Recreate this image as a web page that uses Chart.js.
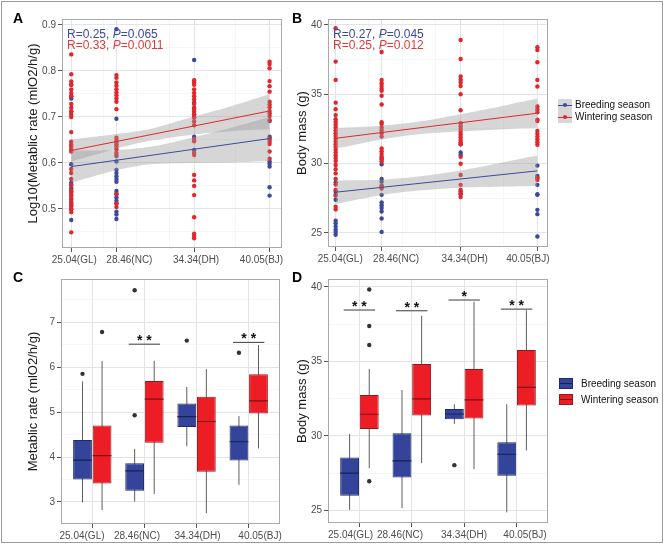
<!DOCTYPE html>
<html>
<head>
<meta charset="utf-8">
<script src="https://cdn.jsdelivr.net/npm/chart.js@4.4.1/dist/chart.umd.min.js"></script>
<style>
  body { margin: 0; background: #fff; }
  #fig { position: relative; width: 666px; height: 545px; overflow: hidden; font-family: "Liberation Sans", Arial, sans-serif; background: #fff; }
  #fig canvas { position: absolute; }
  .frame { position: absolute; left: 1px; top: 1px; width: 660px; height: 540px; border: 1.5px solid #9c9c9c; }
  .lbl { position: absolute; font-weight: bold; font-size: 14px; line-height: 14px; color: #000; }
  .legtxt { position: absolute; font-size: 10px; line-height: 12px; color: #111; white-space: nowrap; }
  .abs { position: absolute; }
</style>
</head>
<body>
<div id="fig">
  <div class="frame"></div>
  <canvas id="cA" width="330" height="268" style="left:0;top:0;width:330px;height:268px"></canvas>
  <canvas id="cB" width="370" height="268" style="left:290px;top:0;width:370px;height:268px"></canvas>
  <canvas id="cC" width="330" height="272" style="left:0;top:270px;width:330px;height:272px"></canvas>
  <canvas id="cD" width="370" height="272" style="left:290px;top:270px;width:370px;height:272px"></canvas>
  <div class="lbl" style="left:13px;top:11px">A</div>
  <div class="lbl" style="left:292px;top:11px">B</div>
  <div class="lbl" style="left:13px;top:270px">C</div>
  <div class="lbl" style="left:292px;top:270px">D</div>
  <div id="legAB"></div>
  <div id="legCD"></div>
</div>
<script>
// ---------------- data ----------------
const siteLabels = ['25.04(GL)', '28.46(NC)', '34.34(DH)', '40.05(BJ)'];
const siteLat = [25.04, 28.46, 34.34, 40.05];
const seasons = ['Breeding season', 'Wintering season'];

// Panel A: Log10 metabolic rate, one list per site (GL, NC, DH, BJ)
const logMRBreeding = [
  [0.770, 0.745, 0.740, 0.712, 0.597, 0.557, 0.552, 0.545, 0.538, 0.530, 0.522, 0.515, 0.508, 0.500, 0.476],
  [0.891, 0.696, 0.615, 0.603, 0.585, 0.578, 0.571, 0.565, 0.559, 0.539, 0.533, 0.525, 0.518, 0.512, 0.494, 0.488, 0.478],
  [0.824, 0.731, 0.718, 0.706, 0.700, 0.657, 0.628],
  [0.691, 0.657, 0.652, 0.603, 0.598, 0.592, 0.547, 0.529]
];
const logMRWintering = [
  [0.836, 0.793, 0.777, 0.770, 0.760, 0.752, 0.745, 0.728, 0.720, 0.712, 0.705, 0.700, 0.667, 0.646, 0.640, 0.636, 0.630, 0.625, 0.587, 0.578, 0.565, 0.552, 0.541, 0.535, 0.528, 0.520, 0.512, 0.505, 0.499, 0.493, 0.449],
  [0.791, 0.785, 0.775, 0.768, 0.760, 0.753, 0.747, 0.740, 0.733, 0.717, 0.655, 0.650, 0.645, 0.640, 0.636, 0.630, 0.622, 0.617, 0.532, 0.512, 0.504],
  [0.780, 0.775, 0.770, 0.760, 0.752, 0.745, 0.738, 0.728, 0.720, 0.712, 0.705, 0.698, 0.690, 0.682, 0.652, 0.647, 0.622, 0.617, 0.574, 0.562, 0.550, 0.530, 0.482, 0.446, 0.441, 0.436],
  [0.820, 0.815, 0.806, 0.778, 0.767, 0.755, 0.733, 0.727, 0.721, 0.713, 0.708, 0.702, 0.693, 0.652, 0.646, 0.641, 0.625, 0.609]
];
// Panel B: body mass (g), one list per site
const massBreeding = [
  [28.64, 28.0, 27.75, 27.4, 25.88, 25.7, 25.47, 25.23, 25.07, 24.87],
  [30.4, 29.96, 28.9, 28.7, 28.4, 27.75, 27.2, 27.0, 26.8, 26.55, 26.05, 25.08],
  [31.4, 30.8, 30.65, 27.99, 27.8],
  [29.86, 29.12, 28.97, 28.47, 27.8, 27.75, 26.67, 26.36, 24.75]
];
const massWintering = [
  [39.76, 37.36, 36.04, 34.40, 33.92, 33.5, 33.2, 33.0, 32.8, 32.6, 32.4, 32.2, 32.0, 31.8, 31.6, 31.4, 31.2, 31.0, 30.8, 30.6, 30.4, 30.2, 29.9, 29.6, 29.3, 28.9, 28.5, 28.1, 27.7, 26.9, 26.7],
  [38.05, 36.04, 35.8, 35.6, 35.4, 35.25, 34.9, 34.26, 32.98, 32.85, 32.6, 32.4, 32.2, 31.95, 31.1, 30.9, 30.7, 30.5, 30.3, 30.15, 28.4, 28.2],
  [38.92, 37.55, 36.28, 36.05, 35.85, 35.6, 35.0, 33.85, 32.92, 32.7, 32.5, 32.3, 32.1, 31.9, 31.7, 31.55, 31.4, 30.5, 29.99, 29.19, 28.47, 28.1, 27.85, 27.6],
  [38.39, 38.2, 37.31, 36.04, 35.56, 34.12, 33.9, 33.71, 33.16, 33.08, 32.36, 32.15, 31.95, 31.75, 31.55, 31.36, 28.96, 28.83]
];

// Linear fits (values at the two ends) and confidence bands
const fitX = [25.04, 40.05];
const fitA_breeding = [0.592, 0.653];
const fitA_wintering = [0.627, 0.713];
const fitB_breeding = [27.94, 29.48];
const fitB_wintering = [31.83, 33.64];
const bandX = [25.04, 28.46, 31.0, 34.34, 37.2, 40.05];
const bandA_breeding_lo = [0.557, 0.584, 0.597, 0.600, 0.601, 0.604];
const bandA_breeding_hi = [0.627, 0.628, 0.635, 0.656, 0.677, 0.700];
const bandA_wintering_lo = [0.603, 0.631, 0.648, 0.662, 0.669, 0.673];
const bandA_wintering_hi = [0.651, 0.663, 0.674, 0.701, 0.724, 0.750];
const bandB_breeding_lo = [27.09, 27.74, 28.05, 28.27, 28.33, 28.38];
const bandB_breeding_hi = [28.79, 28.84, 29.05, 29.51, 30.03, 30.58];
const bandB_wintering_lo = [31.08, 31.74, 32.10, 32.33, 32.47, 32.59];
const bandB_wintering_hi = [32.58, 32.74, 33.00, 33.57, 34.11, 34.69];
const statsA = [{ r: '0.25', p: '0.065' }, { r: '0.33', p: '0.0011' }];
const statsB = [{ r: '0.27', p: '0.045' }, { r: '0.25', p: '0.012' }];

// Panel C: metabolic rate box stats per site [min, q1, median, q3, max]
const mrBoxBreeding = [[2.99, 3.50, 3.93, 4.38, 5.68], [3.01, 3.25, 3.69, 3.86, 4.18], [4.24, 4.67, 4.90, 5.19, 5.56], [3.38, 3.92, 4.34, 4.70, 4.91]];
const mrBoxWintering = [[2.82, 3.41, 4.03, 4.70, 6.14], [3.18, 4.32, 5.29, 5.69, 6.14], [2.75, 3.67, 4.79, 5.34, 5.96], [4.19, 4.97, 5.25, 5.84, 6.49]];
const mrOutBreeding = [[5.85], [4.93, 7.71], [6.59], [6.32]];
const mrOutWintering = [[6.78], [], [], []];
const mrSigText = ['', '**', '', '**'];
const mrSigLevel = [null, 6.51, null, 6.55];

// Panel D: body mass box stats per site [min, q1, median, q3, max]
const bmBoxBreeding = [[25.04, 25.98, 27.5, 28.55, 30.13], [25.16, 27.21, 28.33, 30.18, 33.08], [30.8, 31.12, 31.47, 31.81, 32.12], [24.87, 27.32, 28.77, 29.58, 32.12]];
const bmBoxWintering = [[27.83, 30.47, 31.45, 32.75, 34.49], [28.17, 31.36, 32.48, 34.82, 38.06], [27.77, 31.16, 32.41, 34.49, 39.0], [29.02, 32.03, 33.26, 35.76, 38.44]];
const bmOutBreeding = [[], [], [28.04], []];
const bmOutWintering = [[39.82, 37.37, 36.09, 26.96], [], [], []];
const bmSigText = ['**', '**', '*', '**'];
const bmSigLevel = [38.44, 38.39, 39.11, 38.5];

// Tick values
const yTicksA = [0.5, 0.6, 0.7, 0.8, 0.9], yMinorA = [0.45, 0.55, 0.65, 0.75, 0.85];
const yTicksMass = [25, 30, 35, 40], yMinorMass = [27.5, 32.5, 37.5];
const yTicksMR = [3, 4, 5, 6, 7], yMinorMR = [3.5, 4.5, 5.5, 6.5, 7.5];
const xMinorLat = [27.5, 30, 32.5, 37.5];

// ---------------- layout (x-label anchor positions as drawn in the figure) ----------------
const labelPosA = [25.27, 29.44, 34.49, 39.44];
const labelPosB = [25.38, 29.54, 34.64, 39.34];
const labelPosC = [0.803, 1.858, 3.018, 4.217];
const labelPosD = [0.83, 1.775, 2.996, 4.161];

// ---------------- style ----------------
const FONT = '"Liberation Sans", Arial, sans-serif';
Chart.defaults.font.family = FONT;
Chart.defaults.animation = false;
Chart.defaults.events = [];
Chart.defaults.plugins.legend.display = false;
Chart.defaults.plugins.tooltip.enabled = false;

const BLUE = '#3B4A9B', RED = '#E2262B';
const BOX_BLUE = '#33449A', BOX_RED = '#EC1D25';
const EDGE_BLUE = '#1F2B66', EDGE_RED = '#9A161B';
const GRID_MAJOR = '#E4E4E4', GRID_MINOR = '#F0F0F0';
const BAND = 'rgba(153,153,153,0.4)';
const CAT_PCT = 0.75, BAR_PCT = 0.96;

function gridOpts(isMajor) {
  return {
    color: c => (c.tick && isMajor(c.tick.value)) ? GRID_MAJOR : GRID_MINOR,
    lineWidth: c => (c.tick && isMajor(c.tick.value)) ? 1 : 0.6,
    tickLength: 4,
    tickWidth: 1,
    tickColor: c => (c.tick && isMajor(c.tick.value)) ? '#555' : 'rgba(0,0,0,0)',
    offset: false
  };
}
function yAxis(min, max, majors, minors, fmt, width, title, titlePad) {
  const isMajor = v => majors.includes(v);
  return {
    type: 'linear', position: 'left', min, max,
    afterBuildTicks: s => { s.ticks = majors.concat(minors).filter(v => v >= min && v <= max).sort((a, b) => a - b).map(v => ({ value: v })); },
    afterFit: s => { s.width = width; },
    ticks: { autoSkip: false, padding: 2, color: '#4D4D4D', font: { size: 10 }, callback: v => isMajor(v) ? fmt(v) : '' },
    grid: gridOpts(isMajor),
    border: { display: false },
    title: { display: true, text: title, color: '#1A1A1A', font: { size: 13 }, padding: { top: titlePad, bottom: 0 } }
  };
}
// main x axis: grid lines + tick marks only
function xGridAxis(min, max, majors, minors) {
  const isMajor = v => majors.includes(v);
  return {
    type: 'linear', position: 'bottom', weight: 0, min, max, offset: false,
    afterBuildTicks: s => { s.ticks = majors.concat(minors).sort((a, b) => a - b).map(v => ({ value: v })); },
    afterFit: s => { s.height = 4; },
    ticks: { autoSkip: false, maxRotation: 0, padding: 0, font: { size: 10 }, callback: () => '' },
    grid: gridOpts(isMajor),
    border: { display: false }
  };
}
// second x axis carrying only the category text labels
function xLabelAxis(min, max, pos, height) {
  return {
    type: 'linear', position: 'bottom', weight: 1, min, max, offset: false,
    afterBuildTicks: s => { s.ticks = pos.map(v => ({ value: v })); },
    afterFit: s => { s.height = height; },
    ticks: { autoSkip: false, maxRotation: 0, padding: 2, color: '#4D4D4D', font: { size: 10 }, callback: (v, i) => siteLabels[i] },
    grid: { display: false, drawTicks: false },
    border: { display: false }
  };
}

const panelFrame = {
  id: 'panelFrame',
  afterDraw(chart) {
    const { ctx, chartArea: a } = chart;
    ctx.save();
    ctx.strokeStyle = '#A9A9A9';
    ctx.lineWidth = 1;
    ctx.strokeRect(a.left + 0.5, a.top + 0.5, a.right - a.left - 1, a.bottom - a.top - 1);
    ctx.restore();
  }
};
function statsPlugin(stats) {
  const cols = [BLUE, '#E0393E'];
  return {
    id: 'stats',
    afterDatasetsDraw(chart) {
      const { ctx, chartArea: a } = chart;
      ctx.save();
      ctx.textBaseline = 'middle';
      stats.forEach((s, i) => {
        let x = a.left + 5;
        const y = a.top + 15.5 + i * 11.5;
        ctx.fillStyle = cols[i];
        ctx.font = '12px ' + FONT;
        const t1 = 'R=' + s.r + ', ';
        ctx.fillText(t1, x, y); x += ctx.measureText(t1).width;
        ctx.font = 'italic 12px ' + FONT;
        ctx.fillText('P', x, y); x += ctx.measureText('P').width;
        ctx.font = '12px ' + FONT;
        ctx.fillText('=' + s.p, x, y);
      });
      ctx.restore();
    }
  };
}
function sigPlugin(texts, levels) {
  return {
    id: 'sig',
    afterDatasetsDraw(chart) {
      const { ctx, scales: { x, y } } = chart;
      ctx.save();
      ctx.fillStyle = '#111';
      ctx.font = 'bold 14px ' + FONT;
      ctx.textAlign = 'center';
      ctx.textBaseline = 'alphabetic';
      texts.forEach((t, i) => {
        if (!t) return;
        ctx.fillText(t.split('').join(' '), x.getPixelForValue(i + 1), y.getPixelForValue(levels[i]) + 1);
      });
      ctx.restore();
    }
  };
}
function bindAxes(datasets) { datasets.forEach(d => { d.xAxisID = 'x'; d.yAxisID = 'y'; }); return datasets; }

// ---------------- scatter panels ----------------
function pts(lists) {
  const out = [];
  lists.forEach((vals, i) => vals.forEach(v => out.push({ x: siteLat[i], y: v })));
  return out;
}
function line(xs, ys) { return xs.map((x, i) => ({ x, y: ys[i] })); }
function scatterDatasets(br, wi, fitB, fitW, bBlo, bBhi, bWlo, bWhi) {
  const band = (data, fill) => ({ type: 'line', data, fill, backgroundColor: BAND, borderWidth: 0, pointRadius: 0, tension: 0.3, order: 5 });
  return bindAxes([
    { type: 'scatter', data: pts(br), pointRadius: 2.2, pointBorderWidth: 0, backgroundColor: BLUE, order: 11 },
    { type: 'scatter', data: pts(wi), pointRadius: 2.2, pointBorderWidth: 0, backgroundColor: RED, order: 10 },
    band(line(bandX, bBhi), '+1'),
    band(line(bandX, bBlo), false),
    band(line(bandX, bWhi), '+1'),
    band(line(bandX, bWlo), false),
    { type: 'line', data: line(fitX, fitB), borderColor: BLUE, borderWidth: 1, pointRadius: 0, fill: false, order: 1 },
    { type: 'line', data: line(fitX, fitW), borderColor: RED, borderWidth: 1, pointRadius: 0, fill: false, order: 1 }
  ]);
}

new Chart(document.getElementById('cA'), {
  type: 'scatter',
  data: { datasets: scatterDatasets(logMRBreeding, logMRWintering, fitA_breeding, fitA_wintering, bandA_breeding_lo, bandA_breeding_hi, bandA_wintering_lo, bandA_wintering_hi) },
  options: {
    responsive: false, maintainAspectRatio: false,
    layout: { padding: { left: 0, top: 19, right: 48, bottom: 0 } },
    scales: {
      x: xGridAxis(24.34, 40.99, siteLat, xMinorLat),
      xl: xLabelAxis(24.34, 40.99, labelPosA, 16),
      y: yAxis(0.415, 0.913, yTicksA, yMinorA, v => v.toFixed(1), 62, 'Log10(Metablic rate (mlO2/h/g)', 25.2)
    }
  },
  plugins: [panelFrame, statsPlugin(statsA)]
});

new Chart(document.getElementById('cB'), {
  type: 'scatter',
  data: { datasets: scatterDatasets(massBreeding, massWintering, fitB_breeding, fitB_wintering, bandB_breeding_lo, bandB_breeding_hi, bandB_wintering_lo, bandB_wintering_hi) },
  options: {
    responsive: false, maintainAspectRatio: false,
    layout: { padding: { left: 0, top: 19, right: 112, bottom: 0 } },
    scales: {
      x: xGridAxis(24.47, 40.84, siteLat, xMinorLat),
      xl: xLabelAxis(24.47, 40.84, labelPosB, 17),
      y: yAxis(23.99, 40.43, yTicksMass, yMinorMass, v => String(v), 38, 'Body mass (g)', 4.2)
    }
  },
  plugins: [panelFrame, statsPlugin(statsB)]
});

// ---------------- box panels ----------------
function boxDatasets(boxB, boxW, outB, outW, sigLevels) {
  const half = CAT_PCT / 4;          // offset of each box centre from the category
  const hw = half * BAR_PCT;         // half box width
  const whisk = [], medB = [], medW = [], outl = [], brk = [];
  siteLabels.forEach((_, i) => {
    const c = i + 1;
    [[boxB, outB, -half, medB], [boxW, outW, half, medW]].forEach(([box, out, off, med]) => {
      const s = box[i], xc = c + off;
      whisk.push({ x: xc, y: s[0] }, { x: xc, y: s[4] }, { x: xc, y: null });
      med.push({ x: xc - hw, y: s[2] }, { x: xc + hw, y: s[2] }, { x: xc + hw, y: null });
      out[i].forEach(v => outl.push({ x: xc, y: v }));
    });
    if (sigLevels[i] !== null) brk.push({ x: c - 0.3, y: sigLevels[i] }, { x: c + 0.3, y: sigLevels[i] }, { x: c + 0.3, y: null });
  });
  const bar = (box, fill, edge) => ({
    type: 'bar', data: box.map((s, i) => ({ x: i + 1, y: [s[1], s[3]] })),
    backgroundColor: fill, borderColor: edge, borderWidth: 1, borderSkipped: false,
    categoryPercentage: CAT_PCT, barPercentage: BAR_PCT, order: 2
  });
  const seg = (data, color, order, w) => ({ type: 'line', data, borderColor: color, borderWidth: w, pointRadius: 0, fill: false, spanGaps: false, order });
  return bindAxes([
    bar(boxB, BOX_BLUE, EDGE_BLUE),
    bar(boxW, BOX_RED, EDGE_RED),
    seg(whisk, '#5E5E5E', 3, 1),
    seg(medB, '#18204F', 1, 1.2),
    seg(medW, '#7E1015', 1, 1.2),
    seg(brk, '#3A3A3A', 0, 1),
    { type: 'scatter', data: outl, pointRadius: 2.2, pointBorderWidth: 0, backgroundColor: '#333333', order: 0 }
  ]);
}
const catTicks = siteLabels.map((_, i) => i + 1);

new Chart(document.getElementById('cC'), {
  type: 'bar',
  data: { datasets: boxDatasets(mrBoxBreeding, mrBoxWintering, mrOutBreeding, mrOutWintering, mrSigLevel) },
  options: {
    responsive: false, maintainAspectRatio: false,
    layout: { padding: { left: 0, top: 9, right: 50, bottom: 0 } },
    scales: {
      x: xGridAxis(0.4, 4.6, catTicks, []),
      xl: xLabelAxis(0.4, 4.6, labelPosC, 14),
      y: yAxis(2.51, 7.96, yTicksMR, yMinorMR, v => String(v), 61, 'Metablic rate (mlO2/h/g)', 25.2)
    }
  },
  plugins: [panelFrame, sigPlugin(mrSigText, mrSigLevel)]
});

new Chart(document.getElementById('cD'), {
  type: 'bar',
  data: { datasets: boxDatasets(bmBoxBreeding, bmBoxWintering, bmOutBreeding, bmOutWintering, bmSigLevel) },
  options: {
    responsive: false, maintainAspectRatio: false,
    layout: { padding: { left: 0, top: 9, right: 112, bottom: 0 } },
    scales: {
      x: xGridAxis(0.4, 4.6, catTicks, []),
      xl: xLabelAxis(0.4, 4.6, labelPosD, 15),
      y: yAxis(24.16, 40.52, yTicksMass, yMinorMass, v => String(v), 38, 'Body mass (g)', 4.2)
    }
  },
  plugins: [panelFrame, sigPlugin(bmSigText, bmSigLevel)]
});

// ---------------- legends ----------------
function el(parent, cls, style, text) {
  const d = document.createElement('div');
  d.className = cls; d.setAttribute('style', style);
  if (text) d.textContent = text;
  parent.appendChild(d);
  return d;
}
const legAB = document.getElementById('legAB');
[BLUE, RED].forEach((col, i) => {
  const top = 99 + i * 12;
  el(legAB, 'abs', `left:558px;top:${top}px;width:14px;height:12px;background:#D6D6D6`);
  el(legAB, 'abs', `left:558px;top:${top + 5.5}px;width:14px;height:1px;background:${col}`);
  el(legAB, 'abs', `left:563px;top:${top + 4}px;width:4px;height:4px;border-radius:50%;background:${col}`);
  el(legAB, 'legtxt', `left:575px;top:${top - 0.5}px`, seasons[i]);
});
const legCD = document.getElementById('legCD');
[[BOX_BLUE, EDGE_BLUE, '#18204F'], [BOX_RED, EDGE_RED, '#7E1015']].forEach(([fill, edge, med], i) => {
  const top = 378 + i * 15.5;
  el(legCD, 'abs', `left:559px;top:${top}px;width:12px;height:9px;background:${fill};border:1px solid ${edge}`);
  el(legCD, 'abs', `left:560px;top:${top + 5}px;width:12px;height:1px;background:${med}`);
  el(legCD, 'legtxt', `left:581px;top:${top}px`, seasons[i]);
});
</script>
</body>
</html>
